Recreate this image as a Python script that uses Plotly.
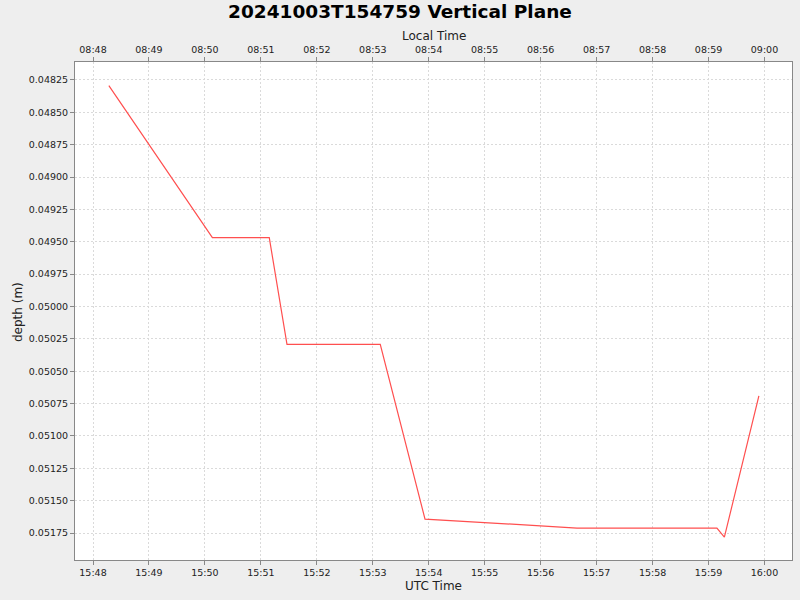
from datetime import datetime, timedelta

import plotly.graph_objects as go

# depth samples (UTC)
utc_time = [
    "2024-10-03 15:48:17", "2024-10-03 15:50:08", "2024-10-03 15:51:09",
    "2024-10-03 15:51:28", "2024-10-03 15:53:08", "2024-10-03 15:53:56",
    "2024-10-03 15:56:39", "2024-10-03 15:59:09", "2024-10-03 15:59:17",
    "2024-10-03 15:59:54",
]
depth = [0.048294, 0.049468, 0.049468, 0.050293, 0.050293,
         0.051642, 0.051711, 0.051711, 0.051781, 0.050691]

utc_offset_hours = -7
x_range = ["2024-10-03 15:47:40.7", "2024-10-03 16:00:29.5"]
y_range = [0.051958, 0.048111]


def shift(ts, hours):
    fmt = "%Y-%m-%d %H:%M:%S.%f" if "." in ts else "%Y-%m-%d %H:%M:%S"
    d = datetime.strptime(ts, fmt) + timedelta(hours=hours)
    return d.strftime("%Y-%m-%d %H:%M:%S.%f")


local_time = [shift(t, utc_offset_hours) for t in utc_time]
local_range = [shift(t, utc_offset_hours) for t in x_range]

fig = go.Figure()
fig.add_trace(go.Scatter(
    x=utc_time, y=depth, mode="lines",
    line=dict(color="#ff4f4f", width=1.2),
    showlegend=False, hoverinfo="x+y",
))
fig.add_trace(go.Scatter(
    x=local_time, y=depth, mode="lines", xaxis="x2",
    line=dict(color="rgba(0,0,0,0)", width=0),
    showlegend=False, hoverinfo="skip",
))

axis_common = dict(
    showgrid=True, gridcolor="#dadada", griddash="2px,2px", gridwidth=1,
    showline=True, linecolor="#888888", linewidth=1,
    ticks="outside", ticklen=4, tickcolor="#888888",
    tickfont=dict(size=9.5, color="#222222"),
    zeroline=False, automargin=False,
)

# axis titles placed by hand, as annotations
title_font = dict(size=12, color="#222222")
axis_titles = [
    dict(text="Local Time", x=0.5, y=1.0522, textangle=0),
    dict(text="UTC Time", x=0.5, y=-0.0516, textangle=0),
    dict(text="depth (m)", x=-0.0795, y=0.498, textangle=-90),
]

fig.update_layout(
    width=800, height=600,
    paper_bgcolor="#eeeeee", plot_bgcolor="white",
    font=dict(family="DejaVu Sans", color="#222222"),
    margin=dict(l=75, r=8, t=62, b=40),
    title=dict(text="<b>20241003T154759 Vertical Plane</b>",
               x=0.5, xanchor="center", y=0.98, yanchor="middle",
               font=dict(size=18.5, color="black")),
    xaxis=dict(axis_common, type="date", range=x_range,
               tickformat="%H:%M", dtick=60000, mirror=False),
    xaxis2=dict(axis_common, type="date", range=local_range,
                overlaying="x", side="top", showgrid=False,
                tickformat="%H:%M", dtick=60000),
    yaxis=dict(axis_common, range=y_range, tickformat=".5f",
               dtick=0.00025, tick0=0.048, mirror=True),
    annotations=[dict(a, xref="paper", yref="paper", showarrow=False,
                      xanchor="center", yanchor="middle", font=title_font)
                 for a in axis_titles],
)

# drop the page's default body margin so the 800x600 figure fills the window
fig.write_html("out.html", config={"displayModeBar": False},
               post_script="document.body.style.margin='0';")
